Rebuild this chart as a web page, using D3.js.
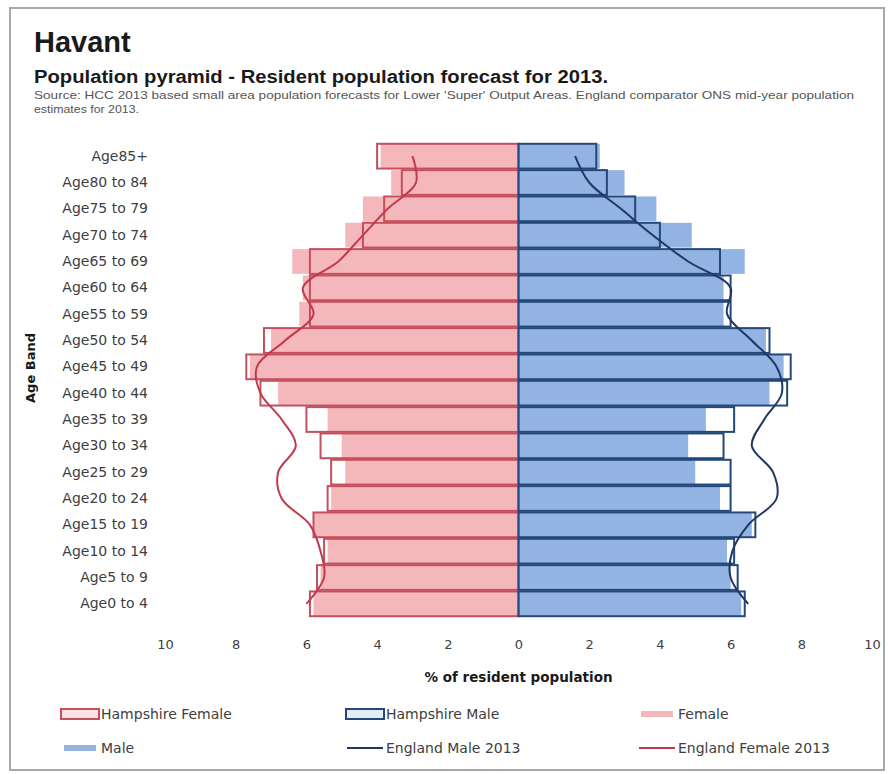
<!DOCTYPE html>
<html>
<head>
<meta charset="utf-8">
<script src="https://cdn.jsdelivr.net/npm/d3@7"></script>
<style>
  body { margin: 0; background: #fff; }
  .tick text { font-family: "DejaVu Sans", sans-serif; fill: #404040; }
</style>
</head>
<body>
<div id="pyramid"></div>
<script>
// age bands, top of pyramid first
var ageBands = ["Age85+", "Age80 to 84", "Age75 to 79", "Age70 to 74", "Age65 to 69", "Age60 to 64",
                "Age55 to 59", "Age50 to 54", "Age45 to 49", "Age40 to 44", "Age35 to 39", "Age30 to 34",
                "Age25 to 29", "Age20 to 24", "Age15 to 19", "Age10 to 14", "Age5 to 9", "Age0 to 4"];

// % of resident population
var havantFemale    = [3.9, 3.6, 4.4, 4.9, 6.4, 6.1, 6.2, 7.0, 7.6, 6.8, 5.4, 5.0, 4.9, 5.3, 5.8, 5.4, 5.6, 5.8];
var havantMale      = [2.3, 3.0, 3.9, 4.9, 6.4, 5.8, 5.8, 7.0, 7.5, 7.1, 5.3, 4.8, 5.0, 5.7, 6.6, 5.9, 6.0, 6.3];
var hampshireFemale = [4.0, 3.3, 3.8, 4.4, 5.9, 5.9, 5.9, 7.2, 7.7, 7.3, 6.0, 5.6, 5.3, 5.4, 5.8, 5.5, 5.7, 5.9];
var hampshireMale   = [2.2, 2.5, 3.3, 4.0, 5.7, 6.0, 6.0, 7.1, 7.7, 7.6, 6.1, 5.8, 6.0, 6.0, 6.7, 6.1, 6.2, 6.4];
var englandMale     = [1.6, 2.0, 2.9, 3.8, 4.8, 6.0, 5.9, 6.6, 7.3, 7.45, 6.95, 6.6, 7.2, 7.3, 6.5, 6.05, 6.0, 6.5];
var englandFemale   = [3.0, 2.9, 3.7, 4.4, 5.1, 6.1, 5.8, 6.6, 7.4, 7.3, 6.7, 6.3, 6.8, 6.7, 5.9, 5.6, 5.5, 6.0];

var xTicks = [-10, -8, -6, -4, -2, 0, 2, 4, 6, 8, 10];

var legendItems = ["Hampshire Female", "Hampshire Male", "Female", "Male", "England Male 2013", "England Female 2013"];

var W = 888, H = 774;
var plot = {left: 165, right: 872, top: 143, bottom: 617};

var pinkFill = "#f4b7bb", blueFill = "#93b3e2",
    redLine = "#c4505d", navyLine = "#24487a";

var svg = d3.select("#pyramid").append("svg")
    .attr("width", W)
    .attr("height", H);

// panel frame
svg.append("rect")
    .attr("x", 10).attr("y", 8)
    .attr("width", 874).attr("height", 762)
    .attr("fill", "#fff")
    .attr("stroke", "#a8a8a8")
    .attr("stroke-width", 2);

// titles
svg.append("text")
    .attr("x", 34).attr("y", 52)
    .style("font", "bold 29px 'Liberation Sans', Arial, sans-serif")
    .attr("fill", "#1a1a1a")
    .text("Havant");

svg.append("text")
    .attr("x", 34).attr("y", 83)
    .style("font", "bold 18px 'Liberation Sans', Arial, sans-serif")
    .attr("fill", "#1a1a1a")
    .attr("textLength", 574)
    .attr("lengthAdjust", "spacingAndGlyphs")
    .text("Population pyramid - Resident population forecast for 2013.");

svg.append("text")
    .attr("x", 34).attr("y", 99)
    .style("font", "10.5px 'Liberation Sans', Arial, sans-serif")
    .attr("fill", "#555")
    .attr("textLength", 820)
    .attr("lengthAdjust", "spacingAndGlyphs")
    .text("Source: HCC 2013 based small area population forecasts for Lower 'Super' Output Areas. England comparator ONS mid-year population");

svg.append("text")
    .attr("x", 34).attr("y", 113)
    .style("font", "10.5px 'Liberation Sans', Arial, sans-serif")
    .attr("fill", "#555")
    .attr("textLength", 105)
    .attr("lengthAdjust", "spacingAndGlyphs")
    .text("estimates for 2013.");

// scales
var xScale = d3.scaleLinear()
    .domain([-10, 10])
    .range([plot.left, plot.right]);

var yScale = d3.scaleBand()
    .domain(ageBands)
    .range([plot.top, plot.bottom])
    .paddingInner(0.06)
    .paddingOuter(0.03);

var rows = ageBands.map(function(d, i) {
    return {band: d, hf: havantFemale[i], hm: havantMale[i], pf: hampshireFemale[i],
            pm: hampshireMale[i], ef: englandFemale[i], em: englandMale[i]};
});

var g = svg.append("g");

// Havant bars (filled)
g.selectAll(".havF").data(rows).enter().append("rect")
    .attr("class", "havF")
    .attr("x", function(d) { return xScale(-d.hf); })
    .attr("y", function(d) { return yScale(d.band); })
    .attr("width", function(d) { return xScale(0) - xScale(-d.hf); })
    .attr("height", yScale.bandwidth())
    .attr("fill", pinkFill);

g.selectAll(".havM").data(rows).enter().append("rect")
    .attr("class", "havM")
    .attr("x", xScale(0))
    .attr("y", function(d) { return yScale(d.band); })
    .attr("width", function(d) { return xScale(d.hm) - xScale(0); })
    .attr("height", yScale.bandwidth())
    .attr("fill", blueFill);

// Hampshire bars (outline only)
g.selectAll(".hamF").data(rows).enter().append("rect")
    .attr("class", "hamF")
    .attr("x", function(d) { return xScale(-d.pf); })
    .attr("y", function(d) { return yScale(d.band); })
    .attr("width", function(d) { return xScale(0) - xScale(-d.pf); })
    .attr("height", yScale.bandwidth())
    .attr("fill", "none")
    .attr("stroke", redLine)
    .attr("stroke-width", 2);

g.selectAll(".hamM").data(rows).enter().append("rect")
    .attr("class", "hamM")
    .attr("x", xScale(0))
    .attr("y", function(d) { return yScale(d.band); })
    .attr("width", function(d) { return xScale(d.pm) - xScale(0); })
    .attr("height", yScale.bandwidth())
    .attr("fill", "none")
    .attr("stroke", navyLine)
    .attr("stroke-width", 2);

// England comparator lines
var midY = function(d) { return yScale(d.band) + yScale.bandwidth() / 2; };

var maleLine = d3.line()
    .x(function(d) { return xScale(d.em); })
    .y(midY)
    .curve(d3.curveCatmullRom);

var femaleLine = d3.line()
    .x(function(d) { return xScale(-d.ef); })
    .y(midY)
    .curve(d3.curveCatmullRom);

g.append("path").datum(rows)
    .attr("d", maleLine)
    .attr("fill", "none")
    .attr("stroke", "#1f3864")
    .attr("stroke-width", 2);

g.append("path").datum(rows)
    .attr("d", femaleLine)
    .attr("fill", "none")
    .attr("stroke", "#c23a4c")
    .attr("stroke-width", 2);

// axes
var xAxis = d3.axisBottom(xScale)
    .tickValues(xTicks)
    .tickFormat(function(d) { return Math.abs(d); })
    .tickSize(0)
    .tickPadding(0);

svg.append("g")
    .attr("class", "x axis")
    .attr("transform", "translate(0,640)")
    .call(xAxis)
    .call(function(a) { a.select(".domain").remove(); })
    .selectAll("text")
    .style("font-size", "13px");

var yAxis = d3.axisLeft(yScale)
    .tickSize(0)
    .tickPadding(0);

svg.append("g")
    .attr("class", "y axis")
    .attr("transform", "translate(148,0)")
    .call(yAxis)
    .call(function(a) { a.select(".domain").remove(); })
    .selectAll("text")
    .style("font-size", "14px");

// axis titles
svg.append("text")
    .attr("text-anchor", "middle")
    .attr("x", xScale(0)).attr("y", 682)
    .style("font", "bold 13.5px 'DejaVu Sans', sans-serif")
    .attr("fill", "#1a1a1a")
    .text("% of resident population");

svg.append("text")
    .attr("text-anchor", "middle")
    .attr("transform", "translate(35,368)rotate(-90)")
    .style("font", "bold 13px 'DejaVu Sans', sans-serif")
    .attr("fill", "#1a1a1a")
    .text("Age Band");

// legend
var legendPos = [[60, 714], [345, 714], [637, 714], [60, 748], [345, 748], [637, 748]];

var legend = svg.selectAll(".legend")
    .data(legendItems)
    .enter().append("g")
      .attr("class", "legend")
      .attr("transform", function(d, i) { return "translate(" + legendPos[i][0] + "," + legendPos[i][1] + ")"; });

legend.each(function(d, i) {
    var el = d3.select(this);
    if (i === 0 || i === 1) {
        el.append("rect")
          .attr("x", 1).attr("y", -5)
          .attr("width", 38).attr("height", 10)
          .attr("fill", i === 0 ? "#fbe3e4" : "#e4ecf7")
          .attr("stroke", i === 0 ? redLine : navyLine)
          .attr("stroke-width", 2);
    } else if (i === 2 || i === 3) {
        el.append("rect")
          .attr("x", 4).attr("y", -3)
          .attr("width", 32).attr("height", 6)
          .attr("fill", i === 2 ? pinkFill : blueFill);
    } else {
        el.append("line")
          .attr("x1", 2).attr("x2", 38)
          .attr("y1", 0).attr("y2", 0)
          .attr("stroke", i === 4 ? "#1f3864" : "#c23a4c")
          .attr("stroke-width", 2);
    }
    el.append("text")
      .attr("x", 41).attr("y", 0)
      .attr("dy", ".35em")
      .style("font", "14px 'DejaVu Sans', sans-serif")
      .attr("fill", "#404040")
      .text(d);
});
</script>
</body>
</html>
